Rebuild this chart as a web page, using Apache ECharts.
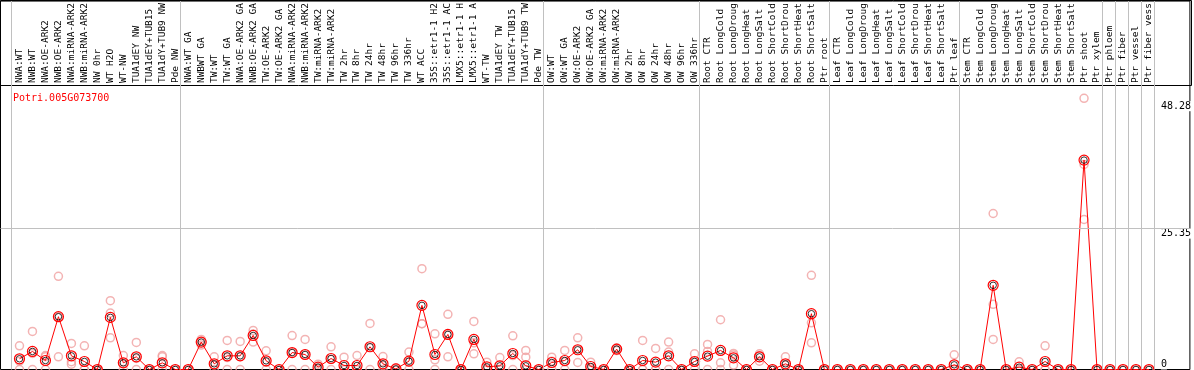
<!DOCTYPE html>
<html>
<head>
<meta charset="utf-8">
<script src="https://cdn.jsdelivr.net/npm/echarts@6/dist/echarts.min.js"></script>
<style>
html,body{margin:0;padding:0;background:#fff;}
#chart{width:1194px;height:370px;}
</style>
</head>
<body>
<div id="chart"></div>
<script>
const geneName = 'Potri.005G073700';

const categories = [
  'NWA:WT','NWB:WT','NWA:OE-ARK2','NWB:OE-ARK2','NWA:miRNA-ARK2','NWB:miRNA-ARK2','NW 0hr','WT H2O','WT-NW','TUA1dEY NW','TUA1dEY+TUB15','TUA1dY+TUB9 NW','Pde NW',
  'NWA:WT GA','NWBWT GA','TW:WT','TW:WT GA','NWA:OE-ARK2 GA','NWB:OE-ARK2 GA','TW:OE-ARK2','TW:OE-ARK2 GA','NWA:miRNA-ARK2','NWB:miRNA-ARK2','TW:miRNA-ARK2','TW:miRNA-ARK2',
  'TW 2hr','TW 8hr','TW 24hr','TW 48hr','TW 96hr','TW 336hr','WT ACC','35S::etr1-1 H2','35S::etr1-1 AC','LMX5::etr1-1 H','LMX5::etr1-1 A','WT-TW','TUA1dEY TW','TUA1dEY+TUB15','TUA1dY+TUB9 TW','Pde TW',
  'OW:WT','OW:WT GA','OW:OE-ARK2','OW:OE-ARK2 GA','OW:miRNA-ARK2','OW:miRNA-ARK2','OW 2hr','OW 8hr','OW 24hr','OW 48hr','OW 96hr','OW 336hr',
  'Root CTR','Root LongCold','Root LongDroug','Root LongHeat','Root LongSalt','Root ShortCold','Root ShortDrou','Root ShortHeat','Root ShortSalt','Ptr root',
  'Leaf CTR','Leaf LongCold','Leaf LongDroug','Leaf LongHeat','Leaf LongSalt','Leaf ShortCold','Leaf ShortDrou','Leaf ShortHeat','Leaf ShortSalt','Ptr leaf',
  'Stem CTR','Stem LongCold','Stem LongDroug','Stem LongHeat','Stem LongSalt','Stem ShortCold','Stem ShortDrou','Stem ShortHeat','Stem ShortSalt','Ptr shoot','Ptr xylem',
  'Ptr phloem','Ptr fiber','Ptr vessel','Ptr fiber vess'
];

// number of categories in each separated group (left to right)
const groupSizes = [13, 28, 12, 10, 10, 11, 1, 1, 1, 1];

const means = [
  1.93, 3.25, 1.62, 9.5, 2.46, 1.44, 0, 9.38, 1.2, 2.28, 0, 1.2, 0,
  0, 4.93, 1.02, 2.46, 2.46, 6.13, 1.56, 0, 3.05, 2.7, 0.42, 1.98,
  0.72, 0.72, 4.09, 1.02, 0.1, 1.5, 11.54, 2.7, 6.31, 0, 5.41, 0.48, 0.66, 2.88, 0.66, 0,
  1.26, 1.62, 3.55, 0.54, 0, 3.67, 0, 1.62, 1.32, 2.46, 0, 1.44,
  2.4, 3.43, 2.1, 0, 2.28, 0, 1.02, 0, 10.04, 0,
  0, 0, 0, 0, 0, 0, 0, 0, 0, 0.84,
  0, 0, 15.15, 0, 0.42, 0, 1.44, 0, 0, 37.68, 0,
  0, 0, 0, 0
];

const replicates = [
  [4.27,1.5,0],[6.85,2.9,0],[2.52,2.3,0],[16.77,9.45,2.28],[4.69,1.4,0.95],[4.27,0,0],[0,0,0],[12.38,10.15,5.71],[2.52,1.1,0],[4.87,2.0,0],[0,0,0],[2.52,2.28,0],[0,0,0],
  [0,0,0],[5.41,5.0,4.4],[2.28,0.8,0],[5.23,2.15,0],[5.05,2.33,0],[7.03,6.4,4.93],[3.37,1.3,0],[0,0,0],[6.1,3.0,0],[5.41,2.7,0],[0.96,0.3,0],[4.09,1.85,0],
  [2.22,0,0],[2.52,0,0],[8.29,4.0,0],[2.34,0.7,0],[0.3,0,0],[3.13,1.4,0],[18.15,8.23,8.23],[6.43,1.74,0],[9.92,6.3,2.28],[0,0,0],[8.65,4.8,2.82],[1.32,0,0],[2.16,0,0],[6.07,2.5,0],[3.43,2.22,0],[0,0,0],
  [2.22,1.5,0],[3.43,1.4,0],[5.71,3.6,1.26],[1.32,0.3,0],[0,0,0],[3.9,3.67,3.4],[0,0,0],[5.23,0,0],[3.79,0,0],[4.93,3.13,0],[0,0,0],[2.82,1.5,0],
  [4.51,3.25,0],[8.95,1.2,0],[2.9,2.6,0.8],[0,0,0],[2.82,2.5,1.5],[0,0,0],[2.28,0.8,0],[0,0,0],[16.95,8.4,4.81],[0,0,0],
  [0,0,0],[0,0,0],[0,0,0],[0,0,0],[0,0,0],[0,0,0],[0,0,0],[0,0,0],[0,0,0],[2.64,0,0],
  [0,0,0],[0,0,0],[28.07,11.72,5.41],[0,0,0],[1.38,0,0],[0,0,0],[4.27,0,0],[0,0,0],[0,0,0],[48.8,36.9,27.0],[0,0,0],
  [0,0,0],[0,0,0],[0,0,0],[0,0,0]
];

const yTickValues = [0, 25.35, 48.28];
const yTickLabels = ['0', '25.35', '48.28'];

// ---- build options ----
const MONO = 'DejaVu Sans Mono';
const catIdx = categories.map((c, i) => i);
const meanData = means.map((v, i) => [i, v]);
const repData = [];
replicates.forEach((arr, i) => arr.forEach(v => repData.push([i, v])));

// group separators, just before the first category of each group and after the last one
const sepOffset = 0.615;
const separators = [];
let start = 0;
groupSizes.forEach(n => { separators.push(start - sepOffset); start += n; });
separators.push(start - sepOffset);

const gridLeft = 0.5, gridWidth = 1191, slot = 13, firstX = 19.5;
const xMin = (gridLeft - firstX) / slot;
const xMax = xMin + gridWidth / slot;

const chart = echarts.init(document.getElementById('chart'), null, {renderer: 'canvas'});
chart.setOption({
  animation: false,
  backgroundColor: '#fff',
  title: {
    text: geneName,
    left: 8, top: 88,
    textStyle: {color: '#ff0000', fontSize: 10, fontWeight: 'normal', fontFamily: MONO}
  },
  grid: [
    {
      left: gridLeft, top: 0.5, width: gridWidth, height: 369,
      show: true, borderColor: '#000', borderWidth: 1, backgroundColor: 'transparent',
      containLabel: false
    },
    {
      left: gridLeft, top: 0.5, width: gridWidth, height: 85,
      show: true, borderColor: '#000', borderWidth: 1, backgroundColor: 'transparent',
      containLabel: false
    }
  ],
  xAxis: [
    {
      type: 'value', min: xMin, max: xMax, position: 'top', offset: -85,
      axisLine: {show: false},
      axisTick: {show: false},
      splitLine: {show: false},
      axisLabel: {
        customValues: catIdx,
        formatter: v => categories[Math.round(v)],
        rotate: 90, margin: 3, color: '#000', fontSize: 9.5, fontFamily: MONO,
        hideOverlap: false
      }
    },
    {gridIndex: 1, type: 'value', show: false, min: 0, max: 1}
  ],
  yAxis: [
    {
      type: 'value', min: 0, max: 66.3, position: 'right', offset: -29,
      axisLine: {show: false}, axisTick: {show: false}, splitLine: {show: false},
      axisLabel: {
        customValues: yTickValues,
        formatter: v => yTickLabels[yTickValues.indexOf(v)] ?? String(v),
        margin: 0, color: '#000', fontSize: 10, fontFamily: MONO,
        verticalAlign: 'top', verticalAlignMinLabel: 'bottom',
        backgroundColor: '#fff'
      }
    },
    {gridIndex: 1, type: 'value', show: false, min: 0, max: 1}
  ],
  series: [
    {
      type: 'scatter', name: 'separators', data: [], silent: true, z: 1,
      markLine: {
        silent: true, symbol: 'none', label: {show: false},
        lineStyle: {color: '#c0c0c0', width: 1, type: 'solid'},
        data: separators.map(s => ({xAxis: s})).concat([{yAxis: yTickValues[1]}])
      }
    },
    {
      type: 'scatter', name: 'replicates', data: repData, z: 2, silent: true,
      symbol: 'circle', symbolSize: 8,
      itemStyle: {color: 'rgba(0,0,0,0)', borderColor: '#f0a0a0', borderWidth: 1.5}
    },
    {
      type: 'line', name: 'mean', data: meanData, z: 3, silent: true,
      symbol: 'circle', symbolSize: 10, showAllSymbol: true,
      lineStyle: {color: '#ff0000', width: 1},
      itemStyle: {color: 'rgba(0,0,0,0)', borderColor: '#ff0000', borderWidth: 1.2}
    },
    {
      type: 'scatter', name: 'meanInner', data: meanData, z: 4, silent: true,
      symbol: 'circle', symbolSize: 6.5,
      itemStyle: {color: 'rgba(0,0,0,0)', borderColor: '#000', borderWidth: 1}
    }
  ]
});
</script>
</body>
</html>
